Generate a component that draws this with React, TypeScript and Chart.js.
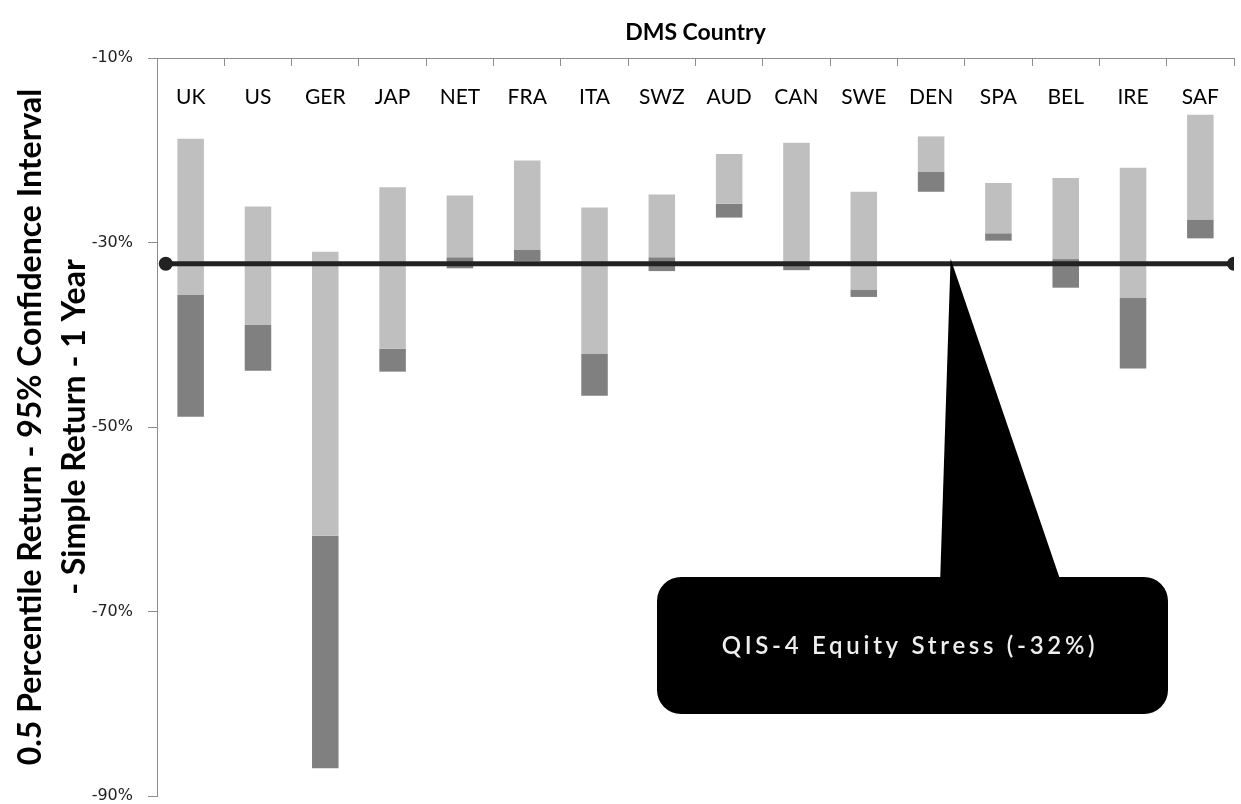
import React, { useEffect, useRef } from 'react';
import { Chart, registerables } from 'chart.js';

Chart.register(...registerables);

// ---- Data ----
const countries = ['UK', 'US', 'GER', 'JAP', 'NET', 'FRA', 'ITA', 'SWZ', 'AUD', 'CAN', 'SWE', 'DEN', 'SPA', 'BEL', 'IRE', 'SAF'];
// top of the light bar
const upperReturn = [-18.75, -26.1, -31.0, -24.0, -24.9, -21.1, -26.2, -24.8, -20.4, -19.2, -24.5, -18.5, -23.55, -23.0, -21.9, -16.15];
// boundary between light and dark bar
const midReturn = [-35.7, -38.9, -61.8, -41.5, -31.6, -30.8, -42.1, -31.6, -25.8, -32.2, -35.15, -22.3, -29.0, -31.8, -35.95, -27.5];
// bottom of the dark bar
const lowerReturn = [-48.9, -43.9, -87.0, -44.0, -32.8, -32.0, -46.6, -33.1, -27.3, -33.0, -35.9, -24.5, -29.8, -34.9, -43.65, -29.55];

const stressLevel = -32.3;
const stressSpan = [-0.37, 15.5];
const calloutTipIndex = 11.29;
const calloutText = 'QIS-4 Equity Stress (-32%)';

const yMin = -90;
const yMax = -10;
const yStep = 20;

const xTitle = 'DMS Country';
const yTitle = ['0.5 Percentile Return - 95% Confidence Interval', '- Simple Return - 1 Year'];

const categoryLabelPlugin = {
  id: 'categoryLabels',
  afterDraw(chart: any) {
    const ctx = chart.ctx as CanvasRenderingContext2D;
    const xs = chart.scales.x;
    ctx.save();
    ctx.fillStyle = '#000';
    ctx.font = '21px Lato';
    ctx.textAlign = 'center';
    ctx.textBaseline = 'middle';
    countries.forEach((c, i) => {
      ctx.fillText(c, xs.getPixelForValue(i), chart.chartArea.top + 39);
    });
    ctx.restore();
  },
};

const calloutPlugin = {
  id: 'callout',
  afterDraw(chart: any) {
    const ctx = chart.ctx as CanvasRenderingContext2D;
    const xs = chart.scales.xl;
    const ys = chart.scales.y;
    const tipX = xs.getPixelForValue(calloutTipIndex);
    const tipY = ys.getPixelForValue(stressLevel) - 5;
    ctx.save();
    ctx.fillStyle = '#000';
    ctx.beginPath();
    (ctx as any).roundRect(657, 577, 511, 137, 24);
    ctx.fill();
    ctx.beginPath();
    ctx.moveTo(940, 585);
    ctx.lineTo(tipX, tipY);
    ctx.lineTo(1062, 585);
    ctx.closePath();
    ctx.fill();
    ctx.fillStyle = '#eeeeee';
    ctx.font = '600 24px Lato';
    (ctx as any).letterSpacing = '3.7px';
    ctx.textAlign = 'center';
    ctx.textBaseline = 'middle';
    ctx.fillText(calloutText, 910, 646);
    ctx.restore();
  },
};

export default function App() {
  const ref = useRef<HTMLCanvasElement>(null);

  useEffect(() => {
    const canvas = ref.current!;
    const chart = new Chart(canvas, {
      type: 'bar',
      data: {
        labels: countries,
        datasets: [
          {
            type: 'line',
            label: 'QIS-4',
            data: stressSpan.map((x) => ({ x, y: stressLevel })),
            xAxisID: 'xl',
            yAxisID: 'y',
            borderColor: '#222',
            borderWidth: 5,
            pointRadius: 7,
            pointBackgroundColor: '#222',
            pointBorderWidth: 0,
            order: 0,
          } as any,
          {
            label: 'upper',
            data: countries.map((_, i) => [midReturn[i], upperReturn[i]]),
            backgroundColor: '#bfbfbf',
            grouped: false,
            xAxisID: 'x',
            yAxisID: 'y',
            order: 1,
          } as any,
          {
            label: 'lower',
            data: countries.map((_, i) => [lowerReturn[i], midReturn[i]]),
            backgroundColor: '#808080',
            grouped: false,
            xAxisID: 'x',
            yAxisID: 'y',
            order: 1,
          } as any,
        ],
      },
      options: {
        animation: false,
        responsive: true,
        maintainAspectRatio: false,
        datasets: { bar: { barPercentage: 0.394, categoryPercentage: 1 } },
        layout: { padding: { left: 0, right: 1, top: 0, bottom: 8 } },
        plugins: { legend: { display: false }, tooltip: { enabled: false } },
        scales: {
          x: {
            type: 'category',
            position: 'top',
            offset: true,
            grid: { display: true, drawOnChartArea: false, drawTicks: true, tickLength: -8, color: '#8c8c8c', offset: true },
            border: { display: true, color: '#8c8c8c', width: 1 },
            ticks: { display: false },
            title: { display: true, text: xTitle, color: '#000', font: { family: 'Lato', size: 23, weight: 'bold' }, padding: { top: 19, bottom: 0 } },
            afterFit: (s: any) => { s.height = 58; s.paddingLeft = 0; s.paddingRight = 0; },
          },
          xl: {
            type: 'linear',
            display: false,
            offset: false,
            min: -0.5,
            max: 15.5,
            grid: { offset: false },
            ticks: { display: false },
            afterFit: (s: any) => { s.height = 0; s.paddingLeft = 0; s.paddingRight = 0; },
          },
          y: {
            min: yMin,
            max: yMax,
            ticks: {
              stepSize: yStep,
              callback: (v: any) => v + '%',
              color: '#222',
              font: { family: 'DejaVu Sans', size: 16 },
              padding: 15,
            },
            grid: { display: true, drawOnChartArea: false, tickLength: 9, color: '#8c8c8c' },
            border: { display: true, color: '#8c8c8c' },
            title: {
              display: true,
              text: yTitle,
              color: '#000',
              font: { family: 'Lato', size: 32, weight: 'bold', lineHeight: 1.375 },
              padding: { top: 9, bottom: 0 },
            },
            afterFit: (s: any) => { s.width = 157; s.paddingTop = 0; s.paddingBottom = 0; },
          },
        },
      } as any,
      plugins: [categoryLabelPlugin, calloutPlugin],
    });
    return () => chart.destroy();
  }, []);

  return (
    <div style={{ position: 'fixed', left: 0, top: 0, width: 1241, height: 804, background: '#fff' }}>
      <canvas ref={ref} />
    </div>
  );
}
